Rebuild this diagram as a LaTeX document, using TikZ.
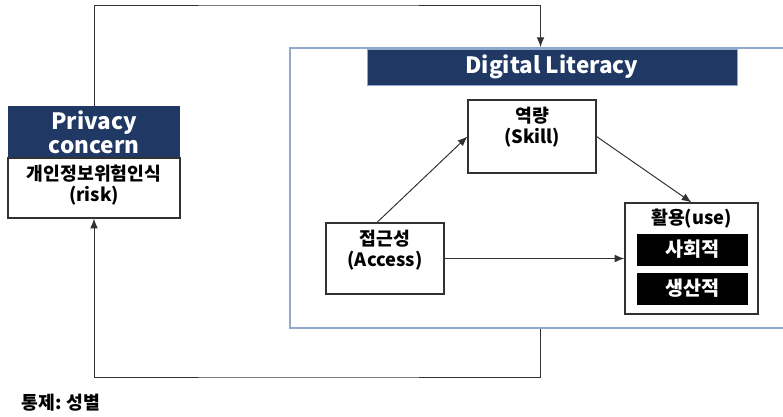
\documentclass[tikz,border=0pt]{standalone}
\usepackage{fontspec}
\setmainfont{Noto Sans CJK KR}
\usetikzlibrary{arrows.meta,positioning}
\definecolor{navy}{RGB}{31,56,100}
\definecolor{frameblue}{RGB}{143,170,204}
\definecolor{linegray}{RGB}{50,50,50}

\begin{document}
\begin{tikzpicture}[x=0.025cm,y=-0.025cm,
    every node/.style={font=\fontsize{13}{14.5}\selectfont\bfseries, align=center},
    headbox/.style={fill=navy, draw=frameblue, text=white, inner sep=0pt, font=\fontsize{16}{19}\selectfont\bfseries},
    plainbox/.style={draw=linegray, line width=0.8pt, fill=white, inner sep=0pt},
    inlabel/.style={anchor=north, yshift=-2pt},
    blackbox/.style={fill=black, text=white, inner sep=0pt, minimum width=2.775cm, minimum height=0.8cm, font=\fontsize{14}{16}\selectfont\bfseries},
    link/.style={draw=linegray, line width=0.7pt, -{Latex[length=7pt,width=5.5pt]}}]
        \useasboundingbox (0,0) rectangle (783,416);

        % outer frame of the literacy block
        \node[draw=frameblue, line width=1.2pt, minimum width=12.525cm, minimum height=7cm, inner sep=0pt] (dlframe) at (540.5,188) {};
        \node[headbox, minimum width=9.25cm, minimum height=0.9cm] (dlhead) at (552,67) {Digital Literacy};

        % privacy concern
        \node[headbox, draw=none, minimum width=4.3cm, minimum height=1.3cm] (pchead) at (94,132) {Privacy\\[-2pt]concern};
        \node[plainbox, minimum width=4.3cm, minimum height=1.5cm, label={[inlabel]90:{개인정보위험인식\\(risk)}}] (pcbox) at (94,188) {};

        % literacy components
        \node[plainbox, minimum width=3.2cm, minimum height=1.825cm, label={[inlabel]90:{역량\\(Skill)}}] (skill) at (532,136.5) {};
        \node[plainbox, minimum width=2.95cm, minimum height=1.775cm, label={[inlabel]90:{접근성\\(Access)}}] (access) at (385,258.5) {};
        \node[plainbox, minimum width=3.325cm, minimum height=2.775cm, label={[inlabel, yshift=1pt]90:{활용(use)}}] (use) at (691.5,258.5) {};
        \node[blackbox] (social) at (692.5,249.5) {사회적};
        \node[blackbox] (prod) at (692.5,288.5) {생산적};

        \draw[link] ([xshift=-0.2cm]access.north) -- (skill.west);
        \draw[link] (skill.east) -- (use.north);
        \draw[link] (access.east) -- (use.west);

        % feedback loop
        \coordinate (toprun) at (300,5);
        \coordinate (botrun) at (300,377);
        \draw[link] (pchead.north) |- (toprun) -| (dlframe.north);
        \draw[link] (dlframe.south) |- (botrun) -| (pcbox.south);

        \node (control) at (61,403) {통제: 성별};
\end{tikzpicture}
\end{document}
